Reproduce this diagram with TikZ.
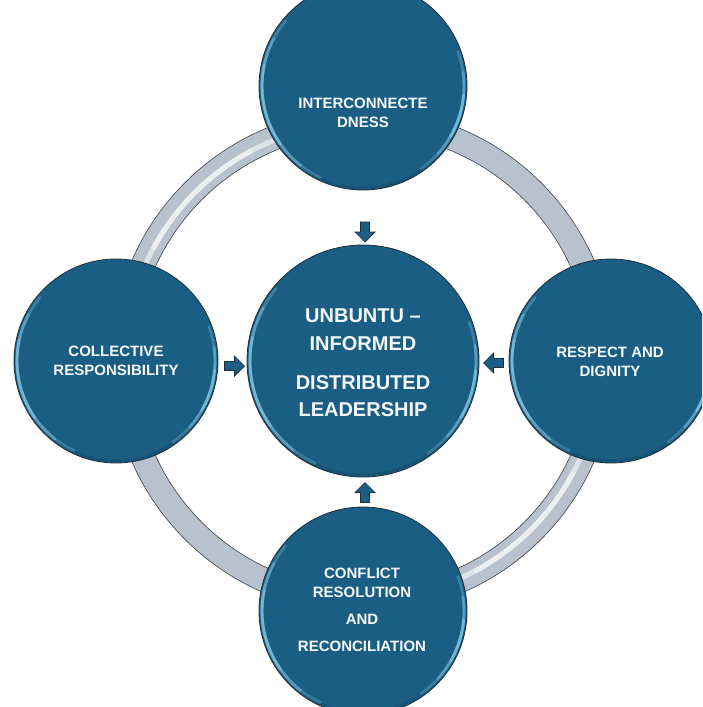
\documentclass[tikz,border=0pt]{standalone}
\usepackage{fontspec}
\setmainfont{Liberation Sans}
\usetikzlibrary{calc}

\definecolor{discblue}{HTML}{1B5E83}
\definecolor{discedge}{HTML}{1E2F3A}
\definecolor{discshade}{HTML}{124A68}
\definecolor{rimlight}{HTML}{8ACDE8}
\definecolor{ringfill}{HTML}{B7C2CE}
\definecolor{ringedge}{HTML}{3C4248}
\definecolor{labelwhite}{HTML}{F4F8FA}

\tikzset{
  disc/.style={circle, fill=discblue, draw=discedge, line width=0.8pt,
    inner sep=0pt, minimum size=#1},
  outerlabel/.style={text=labelwhite, align=center,
    font=\bfseries\fontsize{15}{19}\selectfont},
  corelabel/.style={text=labelwhite, align=center,
    font=\bfseries\fontsize{20}{27.5}\selectfont},
  pics/blockarrow/.style={code={
    \draw[fill=discblue, draw=discedge, line width=0.7pt, line join=miter]
      (-10,-4.5) -- (0,-4.5) -- (0,-10) -- (10,0) -- (0,10) -- (0,4.5)
      -- (-10,4.5) -- cycle;
  }},
}

% bevel glow on the rim of a disc: #1 node name, #2 radius
\newcommand\discrim[2]{%
  \begin{scope}[shift={(#1.center)}]
    \pgfmathsetmacro\rimr{#2-3}
    \pgfmathsetmacro\shader{#2-2}
    \foreach \a/\b/\o in {215/330/0.25, 235/310/0.3}{
      \draw[discshade, line width=3pt, opacity=\o] (\a:\shader) arc (\a:\b:\shader);
    }
    \foreach \a/\b/\o in {140/245/0.3, 152/232/0.4, 168/215/0.55}{
      \draw[rimlight, line width=2.8pt, opacity=\o, line cap=round]
        (\a:\rimr) arc (\a:\b:\rimr);
    }
    \foreach \a/\b/\o in {-55/20/0.3, -42/8/0.4, -30/-5/0.55}{
      \draw[rimlight, line width=2.8pt, opacity=\o, line cap=round]
        (\a:\rimr) arc (\a:\b:\rimr);
    }
  \end{scope}}

\begin{document}
\begin{tikzpicture}[x=1pt, y=1pt]
  \useasboundingbox (0,0) rectangle (702,-707);
  \fill[white] (0,0) rectangle (702,-707);
  \clip (0,0) rectangle (702,-707);

  % ring joining the outer discs
  \coordinate (ringc) at (363,-361);
  \fill[ringfill, even odd rule] (ringc) circle (252) (ringc) circle (228);
  \draw[ringedge, line width=0.6pt] (ringc) circle (252) (ringc) circle (228);
  \begin{scope}[shift={(ringc)}]
    \foreach \a/\b/\o in {100/170/0.3, 108/162/0.35, 118/152/0.45,
                          280/350/0.3, 288/342/0.35, 298/332/0.45}{
      \draw[white, line width=5pt, opacity=\o] (\a:238) arc (\a:\b:238);
    }
  \end{scope}

  % discs
  \node[disc=232pt] (hub)   at (363,-361) {};
  \node[disc=208pt] (north) at (363,-86)  {};
  \node[disc=204pt] (west)  at (116,-361) {};
  \node[disc=204pt] (east)  at (611,-361) {};
  \node[disc=208pt] (south) at (363,-611) {};
  \discrim{hub}{116}
  \discrim{north}{104}
  \discrim{west}{102}
  \discrim{east}{102}
  \discrim{south}{104}

  % labels
  \node[corelabel] (hubtext) at (363,-363)
    {UNBUNTU –\\INFORMED\\[11.5pt]DISTRIBUTED\\LEADERSHIP};
  \node[outerlabel] (northtext) at (363,-112.5) {INTERCONNECTE\\DNESS};
  \node[outerlabel] (westtext) at (116,-361) {COLLECTIVE\\RESPONSIBILITY};
  \node[outerlabel] (easttext) at (610,-361.5) {RESPECT AND\\DIGNITY};
  \node[outerlabel] (southtext) at (362,-609.5)
    {CONFLICT\\RESOLUTION\\[8pt]AND\\[8pt]RECONCILIATION};

  % block arrows pointing into the hub
  \coordinate (arrN) at (365,-232);
  \coordinate (arrW) at (234.5,-366);
  \coordinate (arrE) at (493.5,-363);
  \coordinate (arrS) at (365,-492.5);
  \pic[rotate=-90] at (arrN) {blockarrow};
  \pic at (arrW) {blockarrow};
  \pic[rotate=180] at (arrE) {blockarrow};
  \pic[rotate=90] at (arrS) {blockarrow};
\end{tikzpicture}
\end{document}
